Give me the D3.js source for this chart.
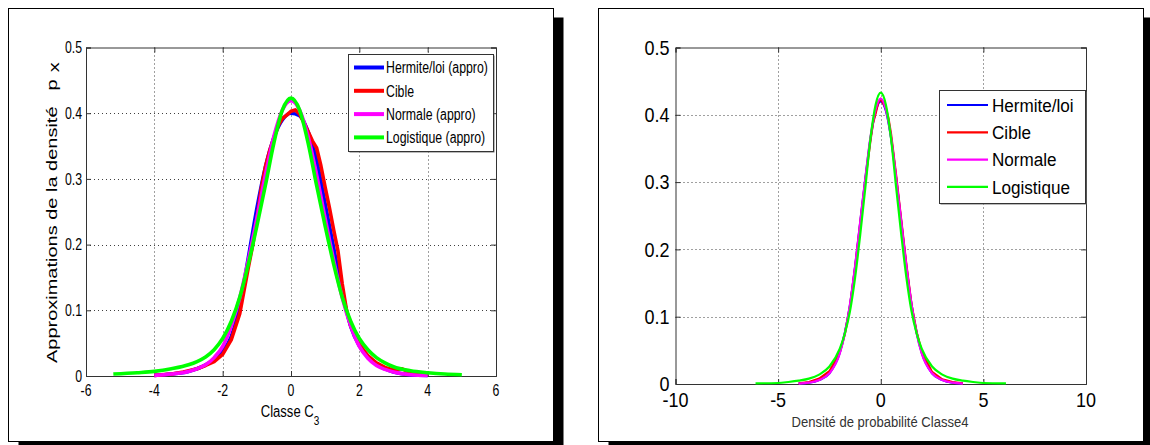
<!DOCTYPE html>
<html>
<head>
<meta charset="utf-8">
<script src="https://cdn.jsdelivr.net/npm/d3@7"></script>
<style>
  html, body { margin: 0; padding: 0; background: #ffffff; }
  svg { display: block; }
  text { font-family: "Liberation Sans", Arial, sans-serif; fill: #000; }
</style>
</head>
<body>
<svg id="chart" width="1150" height="445"></svg>
<script>
// ---------- Data: left panel (Classe C3) ----------
const c3LogX = [-5.2,-4.5,-4,-3.5,-3,-2.75,-2.5,-2.25,-2,-1.75,-1.5,-1.25,-1,-0.75,-0.5,-0.25,0,0.25,0.5,0.75,1,1.25,1.5,1.75,2,2.25,2.5,2.75,3,3.5,4,4.5,5];
const c3Logistique = [0.003,0.005,0.007,0.011,0.017,0.022,0.029,0.040,0.057,0.083,0.120,0.170,0.228,0.290,0.355,0.405,0.423,0.405,0.355,0.290,0.228,0.170,0.120,0.083,0.057,0.040,0.028,0.020,0.014,0.008,0.005,0.003,0.002];
const c3NormX = [-4,-3.5,-3,-2.75,-2.5,-2.25,-2,-1.75,-1.5,-1.25,-1,-0.75,-0.5,-0.25,0,0.25,0.5,0.75,1,1.25,1.5,1.75,2,2.25,2.5,2.75,3,3.5,4];
const c3Normale = [0.001,0.003,0.007,0.011,0.017,0.028,0.045,0.076,0.119,0.176,0.240,0.306,0.365,0.405,0.419,0.405,0.365,0.306,0.240,0.176,0.119,0.076,0.045,0.027,0.016,0.010,0.006,0.002,0.001];
const c3Hermite = [0.001,0.003,0.007,0.011,0.017,0.025,0.038,0.060,0.108,0.180,0.255,0.318,0.363,0.390,0.400,0.396,0.372,0.328,0.262,0.195,0.128,0.075,0.046,0.029,0.018,0.011,0.006,0.002,0.001];
const c3CibleX = [-4,-3.5,-3.15,-2.75,-2.5,-2.25,-2,-1.75,-1.5,-1.25,-1.125,-1,-0.875,-0.75,-0.625,-0.5,-0.375,-0.25,-0.125,0,0.125,0.25,0.375,0.5,0.625,0.75,0.875,1,1.125,1.25,1.375,1.5,1.625,1.75,2,2.25,2.5,2.75,3,3.25,3.5,4];
const c3Cible = [0.001,0.003,0.006,0.011,0.016,0.022,0.033,0.055,0.095,0.165,0.198,0.238,0.284,0.318,0.343,0.362,0.381,0.392,0.397,0.403,0.405,0.399,0.386,0.372,0.358,0.347,0.320,0.287,0.256,0.222,0.190,0.140,0.100,0.076,0.048,0.031,0.020,0.013,0.009,0.011,0.005,0.002];
const c3XTicks = [-6,-4,-2,0,2,4,6];
const c3YTicks = [0,0.1,0.2,0.3,0.4,0.5];
const c3Legend = ["Hermite/loi (appro)","Cible","Normale (appro)","Logistique (appro)"];

// ---------- Data: right panel (Classe4) ----------
const c4LogX = [-6.1,-5,-4.5,-4,-3.5,-3,-2.5,-2,-1.75,-1.5,-1.25,-1,-0.75,-0.5,-0.25,0,0.25,0.5,0.75,1,1.25,1.5,1.75,2,2.5,3,3.5,4,4.5,5,6.1];
const c4Logistique = [0.001,0.0015,0.003,0.005,0.008,0.014,0.026,0.052,0.075,0.108,0.158,0.222,0.292,0.365,0.415,0.433,0.415,0.365,0.292,0.222,0.158,0.108,0.075,0.052,0.026,0.014,0.008,0.005,0.003,0.0015,0.001];
const c4NormX = [-4,-3.5,-3,-2.5,-2,-1.75,-1.5,-1.25,-1,-0.75,-0.5,-0.25,0,0.25,0.5,0.75,1,1.25,1.5,1.75,2,2.5,3,3.5,4];
const c4Normale = [0.0005,0.002,0.006,0.016,0.045,0.075,0.118,0.175,0.241,0.306,0.367,0.408,0.424,0.408,0.367,0.306,0.241,0.175,0.118,0.075,0.045,0.016,0.006,0.002,0.0005];
const c4Hermite = [0.001,0.002,0.006,0.016,0.046,0.076,0.117,0.174,0.240,0.305,0.365,0.405,0.420,0.406,0.366,0.306,0.240,0.174,0.118,0.076,0.046,0.016,0.006,0.002,0.001];
const c4CibleX = [-4,-3.5,-3,-2.5,-2,-1.75,-1.5,-1.25,-1,-0.75,-0.5,-0.375,-0.25,-0.125,0,0.125,0.25,0.375,0.5,0.75,1,1.25,1.5,1.75,2,2.5,3,3.5,4];
const c4Cible = [0.001,0.003,0.008,0.019,0.047,0.074,0.115,0.172,0.238,0.303,0.362,0.388,0.402,0.418,0.424,0.417,0.410,0.395,0.372,0.310,0.243,0.177,0.118,0.077,0.048,0.018,0.007,0.003,0.001];
const c4XTicks = [-10,-5,0,5,10];
const c4YTicks = [0,0.1,0.2,0.3,0.4,0.5];
const c4Legend = ["Hermite/loi","Cible","Normale","Logistique"];

const seriesColors = ["#0000ff","#ff0000","#ff00ff","#00ff00"];

// ---------- Drawing ----------
const svg = d3.select("#chart");

function zip(xs, ys) { return xs.map((x, i) => [x, ys[i]]); }

function frame(x0, y0, w, h) {
  svg.append("rect").attr("x", x0 + 10).attr("y", y0 + 9).attr("width", w).attr("height", h).attr("fill", "#000");
  svg.append("rect").attr("x", x0).attr("y", y0).attr("width", w).attr("height", h)
    .attr("fill", "#fff").attr("stroke", "#000").attr("stroke-width", 1);
}

function panel(cfg) {
  const x = d3.scaleLinear().domain(cfg.xDomain).range([cfg.left, cfg.right]);
  const y = d3.scaleLinear().domain([0, 0.5]).range([cfg.bottom, cfg.top]);
  const g = svg.append("g");
  const sx = cfg.squish;

  // grid (dotted)
  g.selectAll(".vg").data(cfg.xTicks.slice(1, -1)).join("line")
    .attr("x1", d => Math.round(x(d)) + 0.5).attr("x2", d => Math.round(x(d)) + 0.5)
    .attr("y1", cfg.top).attr("y2", cfg.bottom)
    .attr("stroke", "#404040").attr("stroke-width", 1).attr("stroke-dasharray", "1,3");
  g.selectAll(".hg").data(cfg.yTicks.slice(1, -1)).join("line")
    .attr("y1", d => Math.round(y(d)) + 0.5).attr("y2", d => Math.round(y(d)) + 0.5)
    .attr("x1", cfg.left).attr("x2", cfg.right)
    .attr("stroke", "#404040").attr("stroke-width", 1).attr("stroke-dasharray", "1,3");

  // axes box + inward ticks via d3 axes
  const tl = 5;
  const axB = d3.axisBottom(x).tickValues(cfg.xTicks).tickSize(-tl).tickFormat("");
  const axT = d3.axisTop(x).tickValues(cfg.xTicks).tickSize(-tl).tickFormat("");
  const axL = d3.axisLeft(y).tickValues(cfg.yTicks).tickSize(-tl).tickFormat("");
  const axR = d3.axisRight(y).tickValues(cfg.yTicks).tickSize(-tl).tickFormat("");
  [[axB, `translate(0,${cfg.bottom})`], [axT, `translate(0,${cfg.top})`],
   [axL, `translate(${cfg.left},0)`], [axR, `translate(${cfg.right},0)`]].forEach(([ax, tr]) => {
    const a = g.append("g").attr("transform", tr).call(ax);
    a.selectAll("path,line").attr("stroke", "#333");
  });

  // tick labels
  cfg.yTicks.forEach(t => {
    g.append("g").attr("transform", `translate(${cfg.left - cfg.yLabGap},${y(t)}) scale(${sx},1)`)
      .append("text").attr("text-anchor", "end").attr("dy", "0.36em")
      .attr("font-size", cfg.tickFont).text(d3.format("")(t));
  });
  cfg.xTicks.forEach(t => {
    g.append("g").attr("transform", `translate(${x(t)},${cfg.xLabBase}) scale(${sx},1)`)
      .append("text").attr("text-anchor", "middle")
      .attr("font-size", cfg.tickFont).text(t < 0 ? "-" + Math.abs(t) : String(t));
  });

  // curves
  const line = d3.line().x(d => x(d[0])).y(d => y(d[1]));
  cfg.series.forEach((s, i) => {
    g.append("path").datum(zip(s.xs, s.ys))
      .attr("fill", "none").attr("stroke", seriesColors[i])
      .attr("stroke-width", cfg.lw).attr("stroke-linejoin", "round").attr("stroke-linecap", "butt")
      .attr("d", line.curve(s.smooth ? d3.curveMonotoneX : d3.curveLinear));
  });

  // legend
  const L = cfg.legend;
  g.append("rect").attr("x", L.x + 1.5).attr("y", L.y + 1.5).attr("width", L.w).attr("height", L.h)
    .attr("fill", "#777");
  g.append("rect").attr("x", L.x + 0.5).attr("y", L.y + 0.5).attr("width", L.w).attr("height", L.h)
    .attr("fill", "#fff").attr("stroke", "#333").attr("stroke-width", 1);
  cfg.legendLabels.forEach((lab, i) => {
    const ry = L.row0 + i * L.step;
    g.append("line").attr("x1", L.lx0).attr("x2", L.lx1).attr("y1", ry).attr("y2", ry)
      .attr("stroke", seriesColors[i]).attr("stroke-width", L.lw);
    g.append("g").attr("transform", `translate(${L.tx},${ry}) scale(${sx},1)`)
      .append("text").attr("dy", "0.36em").attr("font-size", L.font).text(lab);
  });
  return { x, y, g };
}

// Left panel
frame(8.5, 8.5, 545, 433);
const P1 = panel({
  xDomain: [-6, 6], left: 86, right: 496, top: 47.5, bottom: 376,
  xTicks: c3XTicks, yTicks: c3YTicks, squish: 0.77, tickFont: 16, yLabGap: 4, xLabBase: 396, lw: 3.6,
  series: [
    { xs: c3NormX, ys: c3Hermite, smooth: true },
    { xs: c3CibleX, ys: c3Cible, smooth: false },
    { xs: c3NormX, ys: c3Normale, smooth: true },
    { xs: c3LogX, ys: c3Logistique, smooth: true }
  ],
  legendLabels: c3Legend,
  legend: { x: 348, y: 54, w: 145, h: 97, row0: 67.5, step: 23.3, lx0: 354, lx1: 384, lw: 4, tx: 386, font: 16 }
});
// left axis titles
const xl1 = svg.append("g").attr("transform", "translate(290,417) scale(0.77,1)")
  .append("text").attr("text-anchor", "middle").attr("font-size", 17);
xl1.append("tspan").text("Classe C");
xl1.append("tspan").attr("dy", 8).attr("font-size", 13).text("3");
const yl1 = svg.append("g").attr("transform", "translate(57,363) scale(0.77,1) rotate(-90)")
  .append("text").attr("text-anchor", "start").attr("font-size", 20);
yl1.append("tspan").text("Approximations de la densité");
yl1.append("tspan").attr("dx", 16).text("p");
yl1.append("tspan").attr("dx", 7).attr("dy", 3).text("x");

// Right panel
frame(598.5, 8.5, 545, 433);
const P2 = panel({
  xDomain: [-10, 10], left: 675.5, right: 1086, top: 47.5, bottom: 384,
  xTicks: c4XTicks, yTicks: c4YTicks, squish: 0.9, tickFont: 20, yLabGap: 6, xLabBase: 407, lw: 2.2,
  series: [
    { xs: c4NormX, ys: c4Hermite, smooth: true },
    { xs: c4CibleX, ys: c4Cible, smooth: false },
    { xs: c4NormX, ys: c4Normale, smooth: true },
    { xs: c4LogX, ys: c4Logistique, smooth: true }
  ],
  legendLabels: c4Legend,
  legend: { x: 939, y: 90, w: 146, h: 113, row0: 105, step: 27.3, lx0: 947, lx1: 988, lw: 2.2, tx: 992, font: 19 }
});
svg.append("g").attr("transform", "translate(880,427) scale(0.9,1)")
  .append("text").attr("text-anchor", "middle").attr("font-size", 14.5).style("fill", "#333")
  .text("Densité de probabilité Classe4");
</script>
</body>
</html>
